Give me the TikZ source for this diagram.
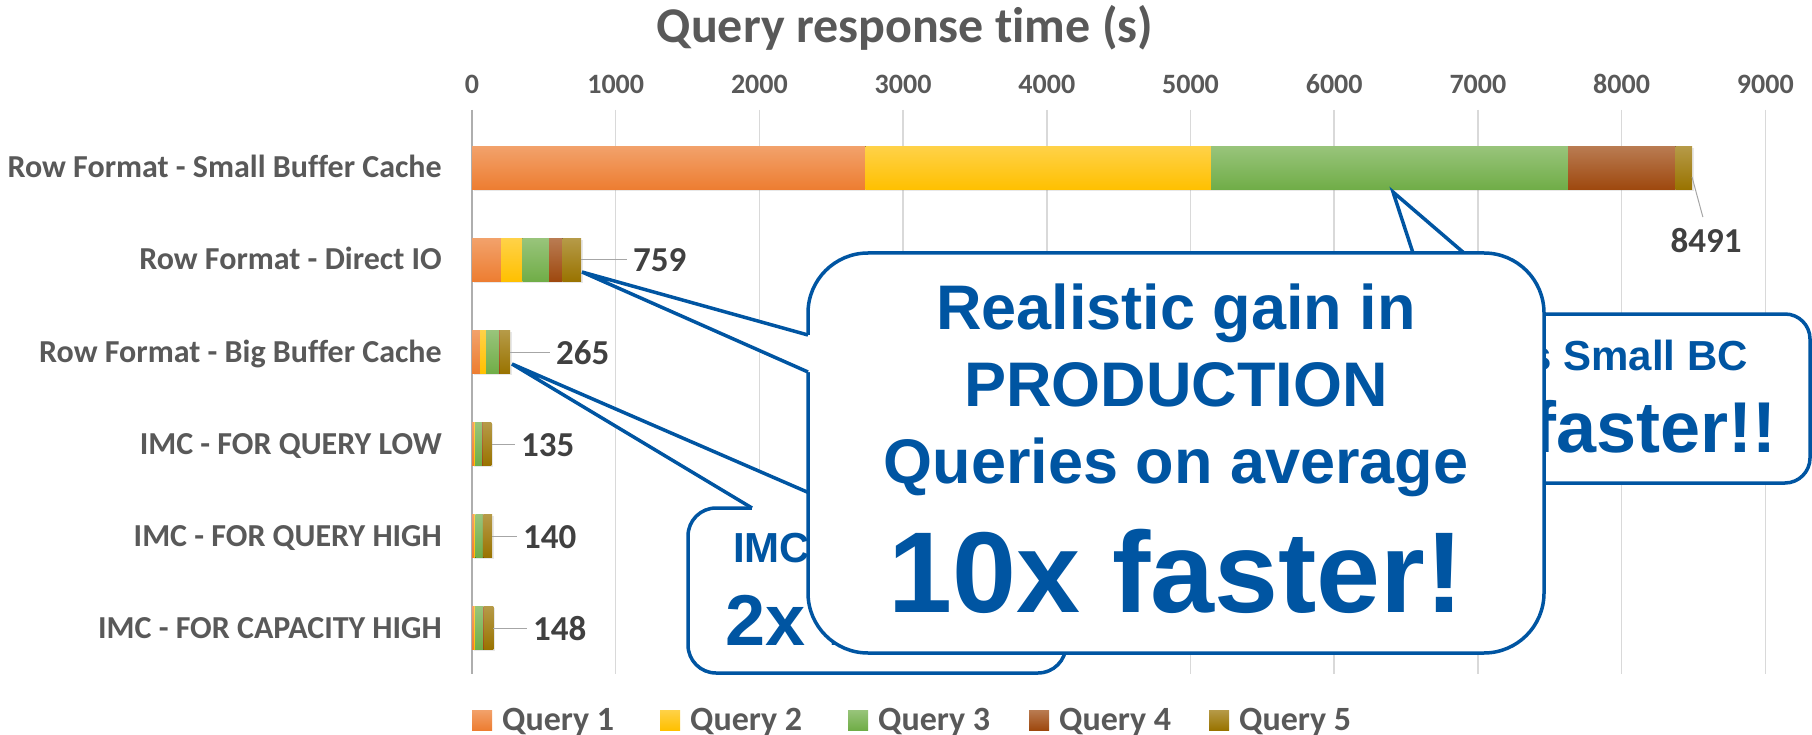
\documentclass[tikz,border=0pt]{standalone}
\usepackage{fontspec}
\setmainfont{Carlito}[Ligatures=NoCommon]
\newfontfamily\calloutfont{Liberation Sans}
\usetikzlibrary{shadows}

\definecolor{axisgray}{HTML}{595959}
\definecolor{valgray}{HTML}{404040}
\definecolor{gridgray}{HTML}{D9D9D9}
\definecolor{leadgray}{HTML}{A6A6A6}
\definecolor{callblue}{RGB}{0,85,162}
\definecolor{qone}{HTML}{ED7D31}
\definecolor{qtwo}{HTML}{FFC000}
\definecolor{qthree}{HTML}{70AD47}
\definecolor{qfour}{HTML}{9E480E}
\definecolor{qfive}{HTML}{997300}

\newcommand{\setfs}[1]{\fontsize{#1}{#1}\selectfont}

\begin{document}
\begin{tikzpicture}[x=1pt, y=-1pt,
  seg/.style={top color=#1!72!white, bottom color=#1,
    drop shadow={opacity=0.18, shadow xshift=1.5pt, shadow yshift=-1.5pt}},
  gridline/.style={draw=gridgray, line width=1.5pt},
  axisline/.style={draw=gridgray!80!black, line width=2pt},
  catlbl/.style={anchor=base east, inner sep=0pt, text=axisgray, font=\bfseries\setfs{32}},
  ticklbl/.style={anchor=base, inner sep=0pt, text=axisgray, font=\bfseries\setfs{28}},
  vallbl/.style={anchor=base west, inner sep=0pt, text=valgray, font=\bfseries\setfs{35}},
  leglbl/.style={anchor=base west, inner sep=0pt, text=axisgray, font=\bfseries\setfs{34}},
  leader/.style={draw=leadgray, line width=1pt},
  callout/.style={draw=callblue, line width=3.5pt, fill=white, rounded corners=#1, inner sep=0pt},
  pointer/.style={draw=callblue, line width=3.5pt},
  calltxt/.style={inner sep=0pt, text=callblue, font=\calloutfont\bfseries\setfs{#1}}]
\useasboundingbox (0,0) rectangle (1812,735);

\node[anchor=base, inner sep=0pt, text=axisgray, font=\bfseries\setfs{50}] (title) at (905,43) {Query response time (s)};

% value axis: grid and ticks every 1000 s
\foreach \t in {0,...,9} {
  \pgfmathsetmacro\gx{472+143.7*\t}
  \pgfmathtruncatemacro\tv{1000*\t}
  \draw[gridline] (\gx,110) -- (\gx,674);
  \node[ticklbl] (tick\t) at (\gx,94) {\tv};
}
\draw[axisline] (472,110) -- (472,674);

% categories
\foreach \yc/\name [count=\i] in {168/Row Format - Small Buffer Cache, 260/Row Format - Direct IO,
    352/Row Format - Big Buffer Cache, 444/IMC - FOR QUERY LOW, 536/IMC - FOR QUERY HIGH,
    628/IMC - FOR CAPACITY HIGH}
  \node[catlbl] (cat\i) at (442,\yc+10) {\name};

% stacked bars, cumulative end of each query
\foreach \yc/\bars in {
    168/{2738/qone,5143/qtwo,7628/qthree,8376/qfour,8491/qfive},
    260/{202/qone,353/qtwo,536/qthree,631/qfour,759/qfive},
    352/{56/qone,98/qtwo,188/qthree,195/qfour,265/qfive},
    444/{14/qone,21/qtwo,70/qthree,77/qfour,135/qfive},
    536/{14/qone,24/qtwo,76/qthree,80/qfour,140/qfive},
    628/{14/qone,21/qtwo,80/qthree,84/qfour,148/qfive}}
  \foreach \v/\c [remember=\v as \u (initially 0)] in \bars
    \fill[seg=\c] (472+0.1437*\u,\yc-21.5) rectangle (472+0.1437*\v,\yc+21.5);

% totals
\coordinate (end1) at (1692,177);
\node[vallbl, anchor=base] (val1) at (1706,253) {8491};
\draw[leader, shorten >=12pt] (end1) -- (val1.north);
\foreach \i/\yc/\ex/\lx/\v in {2/260/581/633/759, 3/352/510/556/265, 4/444/492/521/135,
    5/536/492/523/140, 6/628/493/533/148} {
  \coordinate (end\i) at (\ex,\yc);
  \node[vallbl] (val\i) at (\lx,\yc+12) {\v};
  \draw[leader, shorten >=6pt] (end\i) -- (end\i -| val\i.west);
}

% legend
\foreach \x/\c [count=\i] in {472/qone, 660/qtwo, 848/qthree, 1029/qfour, 1209/qfive} {
  \fill[top color=\c!72!white, bottom color=\c] (\x,710) rectangle ++(20,20);
  \node[leglbl] (leg\i) at (\x+30,730) {Query \i};
}

% callout against small buffer cache
\node[callout=25pt, minimum width=480pt, minimum height=169pt] (vsbc) at (1570,398.5) {};
\coordinate (vsbc tip) at (1393,192);
\fill[white] (1433,318) -- (1433,314) -- (vsbc tip) -- (1535,314) -- (1535,318) -- cycle;
\draw[pointer] (1433,314) -- (vsbc tip) -- (1535,314);
\node[calltxt=42, anchor=base east] (vsbc l1) at (1748,370) {s Small BC};
\node[calltxt=72, anchor=base east] (vsbc l2) at (1777,452) {faster!!};

% callout on the IMC rows
\node[callout=28pt, minimum width=378pt, minimum height=165pt] (imc) at (877,590.5) {};
\coordinate (imc tip) at (512,364);
\fill[white] (752,512) -- (752,508) -- (imc tip) -- (844,508) -- (844,512) -- cycle;
\draw[pointer] (752,508) -- (imc tip) -- (844,508);
\node[calltxt=42, anchor=base west] (imc l1) at (733,562) {IMC};
\node[calltxt=72, anchor=base west] (imc l2) at (725,645) {2x f};

% main callout, pointing at direct IO
\node[callout=60pt, minimum width=736pt, minimum height=400pt] (prod) at (1176,453) {};
\coordinate (prod tip) at (582,272);
\fill[white] (812,335) -- (808,335) -- (prod tip) -- (808,372) -- (812,372) -- cycle;
\draw[pointer] (808,335) -- (prod tip) -- (808,372);
\node[calltxt=63, anchor=base] (prod l1) at (1176,330) {Realistic gain in};
\node[calltxt=63, anchor=base] (prod l2) at (1176,406) {PRODUCTION};
\node[calltxt=63, anchor=base] (prod l3) at (1176,483) {Queries on average};
\node[calltxt=115, anchor=base] (prod l4) at (1176,612) {10x faster!};
\end{tikzpicture}
\end{document}
